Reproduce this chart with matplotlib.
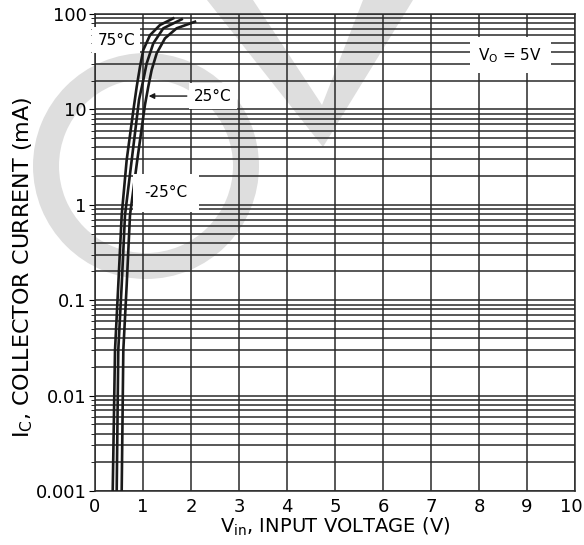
import numpy as np
import matplotlib
matplotlib.use('Agg')
import matplotlib.pyplot as plt
from matplotlib.patches import Wedge, Polygon
from matplotlib.transforms import ScaledTranslation

plt.rcParams['font.family'] = ['DejaVu Sans']
plt.rcParams['mathtext.fontset'] = 'dejavusans'

# Collector current (mA) vs input voltage (V)
v_75 = [0.369, 0.417, 0.485, 0.556, 0.66, 0.80, 0.869, 0.9375, 1.006, 1.146, 1.354, 1.63]
i_75 = [0.001, 0.030, 0.144, 0.78, 2.95, 9.86, 17.3, 28.0, 42.0, 60.0, 76.7, 90.0]

v_25 = [0.452, 0.485, 0.556, 0.625, 0.765, 0.917, 1.006, 1.077, 1.215, 1.423, 1.806]
i_25 = [0.001, 0.030, 0.144, 0.78, 2.95, 12.6, 20.3, 30.4, 49.3, 70.8, 88.0]

v_m25 = [0.556, 0.59, 0.66, 0.729, 0.881, 1.04, 1.11, 1.18, 1.285, 1.458, 1.70, 2.083]
i_m25 = [0.001, 0.030, 0.144, 0.78, 2.95, 11.1, 17.3, 25.9, 38.7, 55.6, 70.8, 83.0]

x_ticks = list(range(0, 11))
y_ticks = [0.001, 0.01, 0.1, 1, 10, 100]
y_tick_labels = ['0.001', '0.01', '0.1', '1', '10', '100']

fig = plt.figure(figsize=(5.84, 5.45), dpi=100)

# grey watermark behind everything (pixel coordinates)
bg = fig.add_axes([0, 0, 1, 1], zorder=0)
bg.set_xlim(0, 584)
bg.set_ylim(545, 0)
bg.axis('off')
wm = '#dedede'
bg.add_patch(Wedge((146, 166), 113, 0, 360, width=26, facecolor=wm, edgecolor='none'))
bg.add_patch(Polygon([(207, 0), (253, 0), (322, 105), (363, 0), (413, 0), (323, 147)],
                     closed=True, facecolor=wm, edgecolor='none'))

ax = fig.add_axes([95 / 584, 54 / 545, 480 / 584, 477 / 545], zorder=1)
ax.set_facecolor('none')
ax.set_yscale('log')
ax.set_xlim(0, 10)
ax.set_ylim(0.001, 100)

ax.grid(which='both', axis='y', color='#2a2a2a', linewidth=1.1)
ax.grid(which='major', axis='x', color='#2a2a2a', linewidth=1.1)

curve_kw = dict(color='#1a1a1a', linewidth=1.9, solid_joinstyle='round', zorder=3)
ax.plot(v_75, i_75, **curve_kw)
ax.plot(v_25, i_25, **curve_kw)
ax.plot(v_m25, i_m25, **curve_kw)

ax.set_xticks(x_ticks)
ax.set_yticks(y_ticks)
ax.set_yticklabels(y_tick_labels)
ax.tick_params(axis='x', length=0, labelsize=13, pad=5)
ax.tick_params(axis='y', which='major', length=4, direction='out', labelsize=13, pad=2)
ax.tick_params(axis='y', which='minor', length=3, direction='out')
for s in ax.spines.values():
    s.set_color('#2a2a2a')
    s.set_linewidth(1.1)

# nudge the "10" label so it stays inside the image
last = ax.xaxis.get_major_ticks()[-1].label1
last.set_transform(last.get_transform() + ScaledTranslation(-3 / 72, 0, fig.dpi_scale_trans))

ax.set_xlabel(r'V$_\mathregular{in}$, INPUT VOLTAGE (V)', fontsize=14, labelpad=0)
ax.set_ylabel(r'I$_\mathregular{C}$, COLLECTOR CURRENT (mA)', fontsize=16)
ax.yaxis.set_label_coords(-0.125, 0.47)

box = dict(facecolor='white', edgecolor='none', pad=4)
ax.text(0.44, 53, '75°C', fontsize=11, ha='center', va='center', bbox=box, zorder=4)
ax.text(2.46, 13.8, '25°C', fontsize=11, ha='center', va='center', bbox=box, zorder=4)
ax.annotate('', xy=(1.06, 13.8), xytext=(1.97, 13.8),
            arrowprops=dict(arrowstyle='-|>', color='#1a1a1a', lw=1.0, mutation_scale=8),
            zorder=4)
ax.text(1.48, 1.33, '-25°C', fontsize=11, ha='center', va='center',
        bbox=dict(facecolor='white', edgecolor='none', pad=8), zorder=4)
ax.text(8.65, 37, r'V$_\mathregular{O}$ = 5V', fontsize=11, ha='center', va='center',
        bbox=dict(facecolor='white', edgecolor='none', pad=6), zorder=4)

fig.savefig('out.png', dpi=100)
